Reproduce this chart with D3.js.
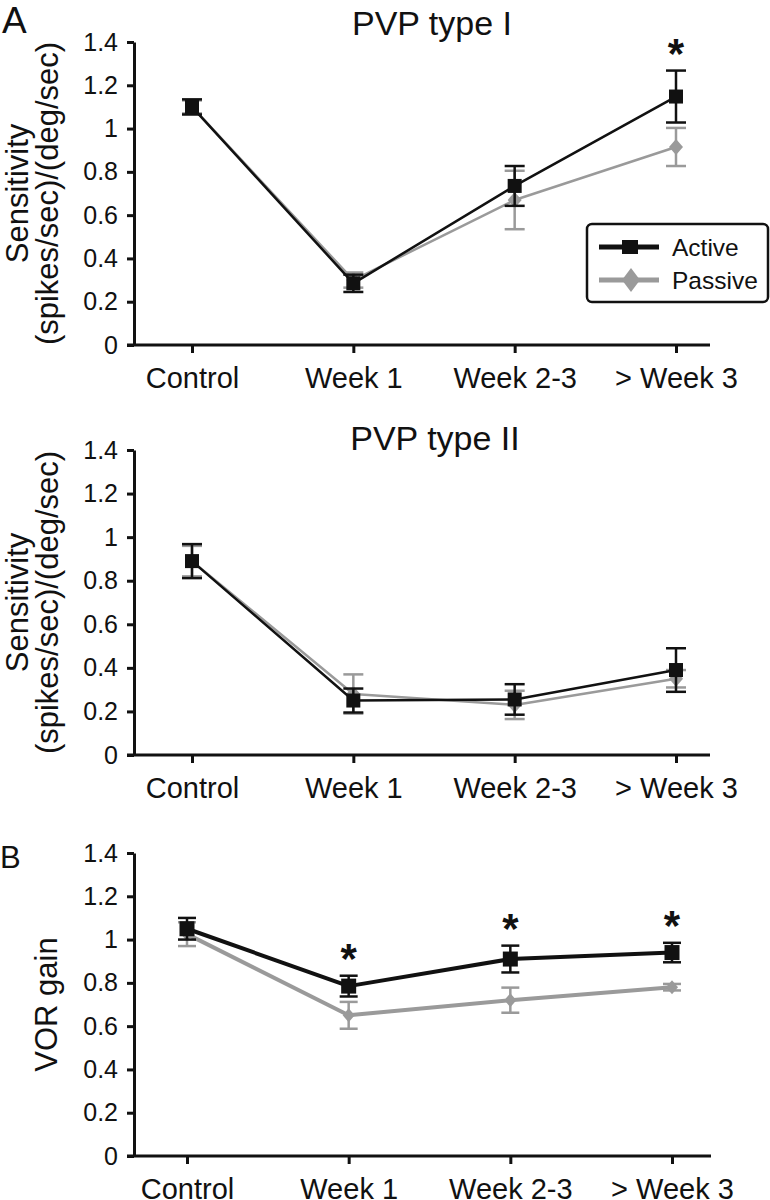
<!DOCTYPE html>
<html>
<head>
  <meta charset="utf-8">
  <title>PVP sensitivity and VOR gain</title>
  <script src="https://d3js.org/d3.v7.min.js"></script>
  <style>
    body { margin: 0; background: #fff; }
    svg { display: block; font-family: "Liberation Sans", Arial, sans-serif; }
  </style>
</head>
<body>
  <svg width="770" height="1200"></svg>
  <script>
    // categories and ticks
    var categories = ["Control", "Week 1", "Week 2-3", "> Week 3"];
    var yTicks = [0, 0.2, 0.4, 0.6, 0.8, 1, 1.2, 1.4];

    // PVP type I
    var pvp1Active = [1.10, 0.285, 0.735, 1.148];
    var pvp1ActiveErr = [0.035, 0.04, 0.092, 0.12];
    var pvp1Passive = [1.10, 0.30, 0.67, 0.915];
    var pvp1PassiveErr = [0.03, 0.035, 0.135, 0.088];
    var pvp1Sig = ["> Week 3"];

    // PVP type II
    var pvp2Active = [0.89, 0.25, 0.255, 0.39];
    var pvp2ActiveErr = [0.078, 0.055, 0.07, 0.10];
    var pvp2Passive = [0.89, 0.28, 0.23, 0.35];
    var pvp2PassiveErr = [0.07, 0.09, 0.065, 0.04];
    var pvp2Sig = [];

    // VOR gain
    var vorActive = [1.05, 0.785, 0.91, 0.94];
    var vorActiveErr = [0.05, 0.048, 0.062, 0.045];
    var vorPassive = [1.025, 0.65, 0.72, 0.78];
    var vorPassiveErr = [0.055, 0.062, 0.058, 0.015];
    var vorSig = ["Week 1", "Week 2-3", "> Week 3"];

    var black = "#111", gray = "#9a9a9a";

    function rows(vals, errs) {
      return categories.map(function (c, i) { return { cat: c, v: vals[i], e: errs[i] }; });
    }

    // panel layout
    var panels = [
      { letter: "A", letterX: 2, letterY: 33, letterSize: 37,
        title: "PVP type I", titleX: 432, titleY: 35,
        ylabel: ["Sensitivity", "(spikes/sec)/(deg/sec)"], ylabelX: [28, 58],
        top: 42, bottom: 345, xr: [192, 676], axisX: 134, xEnd: 710,
        lw: 2.5, cap: 10, sq: 14, dw: 7, dh: 8,
        active: rows(pvp1Active, pvp1ActiveErr), passive: rows(pvp1Passive, pvp1PassiveErr),
        sig: pvp1Sig, legend: true },
      { title: "PVP type II", titleX: 435, titleY: 450,
        ylabel: ["Sensitivity", "(spikes/sec)/(deg/sec)"], ylabelX: [28, 58],
        top: 450, bottom: 755, xr: [192, 676], axisX: 134, xEnd: 710,
        lw: 2.5, cap: 10, sq: 14, dw: 7, dh: 8,
        active: rows(pvp2Active, pvp2ActiveErr), passive: rows(pvp2Passive, pvp2PassiveErr),
        sig: pvp2Sig },
      { letter: "B", letterX: 0, letterY: 868, letterSize: 31,
        ylabel: ["VOR gain"], ylabelX: [57],
        top: 853, bottom: 1156, xr: [187, 672], axisX: 134, xEnd: 711,
        lw: 4, cap: 9, sq: 15, dw: 6, dh: 7,
        active: rows(vorActive, vorActiveErr), passive: rows(vorPassive, vorPassiveErr),
        sig: vorSig }
    ];

    var svg = d3.select("svg");

    panels.forEach(function (p) {
      var g = svg.append("g");
      var x = d3.scalePoint().domain(categories).range(p.xr);
      var y = d3.scaleLinear().domain([0, 1.4]).range([p.bottom, p.top]);

      // y axis
      var ya = g.append("g")
        .attr("transform", "translate(" + p.axisX + ",0)")
        .call(d3.axisLeft(y).tickValues(yTicks).tickSizeInner(7).tickSizeOuter(0).tickPadding(9)
          .tickFormat(function (d) { return String(+d.toFixed(1)); }));
      ya.selectAll("path, line").attr("stroke", black).attr("stroke-width", 3);
      ya.selectAll("text").attr("font-size", 25).attr("fill", black).attr("font-family", null);

      // x axis
      var xa = g.append("g")
        .attr("transform", "translate(0," + p.bottom + ")")
        .call(d3.axisBottom(x).tickSizeInner(8).tickSizeOuter(0).tickPadding(14));
      xa.select(".domain").remove();
      xa.selectAll("line").attr("stroke", black).attr("stroke-width", 3);
      xa.selectAll("text").attr("font-size", 29).attr("fill", black).attr("font-family", null);
      g.append("line")
        .attr("x1", p.axisX - 7).attr("x2", p.xEnd)
        .attr("y1", p.bottom).attr("y2", p.bottom)
        .attr("stroke", black).attr("stroke-width", 3);

      // y label
      var yMid = (p.top + p.bottom) / 2;
      p.ylabel.forEach(function (t, i) {
        g.append("text")
          .attr("transform", "translate(" + p.ylabelX[i] + "," + yMid + ") rotate(-90)")
          .attr("text-anchor", "middle")
          .attr("font-size", 31)
          .attr("fill", black)
          .text(t);
      });

      if (p.title) {
        g.append("text").attr("x", p.titleX).attr("y", p.titleY)
          .attr("text-anchor", "middle").attr("font-size", 34).attr("fill", black)
          .text(p.title);
      }
      if (p.letter) {
        g.append("text").attr("x", p.letterX).attr("y", p.letterY)
          .attr("font-size", p.letterSize).attr("fill", black)
          .text(p.letter);
      }

      var line = d3.line().x(function (d) { return x(d.cat); }).y(function (d) { return y(d.v); });

      function drawSeries(data, color, marker) {
        var s = g.append("g");
        s.append("path").datum(data)
          .attr("d", line).attr("fill", "none")
          .attr("stroke", color).attr("stroke-width", p.lw).attr("stroke-linejoin", "round");
        var eb = s.selectAll(".eb").data(data).enter().append("g");
        eb.append("line")
          .attr("x1", function (d) { return x(d.cat); }).attr("x2", function (d) { return x(d.cat); })
          .attr("y1", function (d) { return y(d.v - d.e); }).attr("y2", function (d) { return y(d.v + d.e); })
          .attr("stroke", color).attr("stroke-width", 2.5);
        [-1, 1].forEach(function (sgn) {
          eb.append("line")
            .attr("x1", function (d) { return x(d.cat) - p.cap; }).attr("x2", function (d) { return x(d.cat) + p.cap; })
            .attr("y1", function (d) { return y(d.v + sgn * d.e); }).attr("y2", function (d) { return y(d.v + sgn * d.e); })
            .attr("stroke", color).attr("stroke-width", 2.5);
        });
        if (marker === "square") {
          s.selectAll(".mk").data(data).enter().append("rect")
            .attr("x", function (d) { return x(d.cat) - p.sq / 2; })
            .attr("y", function (d) { return y(d.v) - p.sq / 2; })
            .attr("width", p.sq).attr("height", p.sq).attr("fill", color);
        } else {
          s.selectAll(".mk").data(data).enter().append("path")
            .attr("d", function (d) {
              var cx = x(d.cat), cy = y(d.v);
              return "M" + cx + "," + (cy - p.dh) + "L" + (cx + p.dw) + "," + cy +
                "L" + cx + "," + (cy + p.dh) + "L" + (cx - p.dw) + "," + cy + "Z";
            })
            .attr("fill", color);
        }
      }

      drawSeries(p.passive, gray, "diamond");
      drawSeries(p.active, black, "square");

      // significance stars
      var sigRows = p.active.filter(function (d) { return p.sig.indexOf(d.cat) >= 0; });
      g.selectAll(".star").data(sigRows).enter().append("text")
        .attr("x", function (d) { return x(d.cat); })
        .attr("y", function (d) { return y(d.v + d.e) - 3; })
        .attr("text-anchor", "middle")
        .attr("font-size", 42).attr("font-weight", "bold").attr("fill", black)
        .text("*");

      // legend
      if (p.legend) {
        var lg = g.append("g").attr("transform", "translate(587,224)");
        lg.append("rect").attr("width", 181).attr("height", 78).attr("rx", 5)
          .attr("fill", "#fff").attr("stroke", black).attr("stroke-width", 2.5);
        var items = [
          { name: "Active", color: black, marker: "square" },
          { name: "Passive", color: gray, marker: "diamond" }
        ];
        items.forEach(function (it, i) {
          var cy = 23 + i * 33;
          lg.append("line").attr("x1", 12).attr("x2", 72).attr("y1", cy).attr("y2", cy)
            .attr("stroke", it.color).attr("stroke-width", 5);
          if (it.marker === "square") {
            lg.append("rect").attr("x", 35).attr("y", cy - 7).attr("width", 16).attr("height", 14)
              .attr("fill", it.color);
          } else {
            lg.append("path")
              .attr("d", "M44," + (cy - 12) + "L53," + cy + "L44," + (cy + 12) + "L35," + cy + "Z")
              .attr("fill", it.color);
          }
          lg.append("text").attr("x", 85).attr("y", cy + 8.5)
            .attr("font-size", 24.5).attr("fill", black).text(it.name);
        });
      }
    });
  </script>
</body>
</html>
